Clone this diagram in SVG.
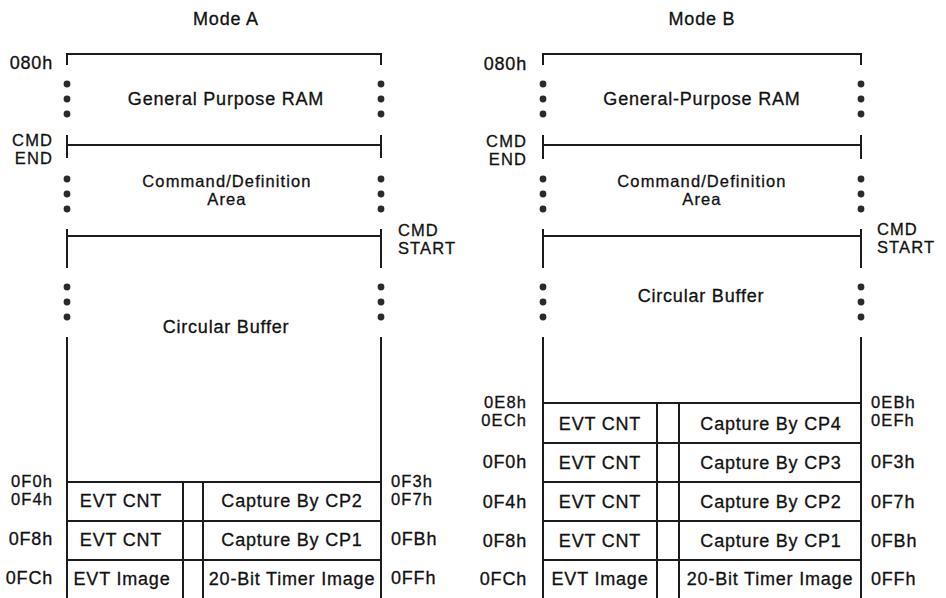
<svg xmlns="http://www.w3.org/2000/svg" width="946" height="598" viewBox="0 0 946 598">
<defs>
<style>
.ln{fill:none;stroke:#1c1c1c;stroke-width:2}
.dot{fill:#2a2a2a}
text{font-family:"Liberation Sans",Arial,sans-serif;font-size:18px;fill:#111;stroke:#111;stroke-width:0.3;letter-spacing:0.8px}
text.s{font-size:16.5px;letter-spacing:1.1px}
.m{text-anchor:middle}
.e{text-anchor:end}
</style>
</defs>
<rect width="946" height="598" fill="#fff"/>

<g id="title-a"><text class="m" x="226" y="25">Mode A</text></g>
<g id="title-b"><text class="m" x="702" y="25">Mode B</text></g>

<g id="connectors">
<path class="ln" d="M67,65 V54 H381 V65"/>
<path class="ln" d="M67,135 V158 M67,145 H381 M381,135 V158"/>
<path class="ln" d="M67,229 V268 M67,236 H381 M381,229 V268"/>
<path class="ln" d="M67,337 V598 M381,337 V598"/>
<path class="ln" d="M67,482 H381 M67,521 H381 M67,560 H381 M183,482 V598 M203,482 V598"/>
<path class="ln" d="M543,65 V54 H861 V65"/>
<path class="ln" d="M543,135 V159 M543,145 H861 M861,135 V159"/>
<path class="ln" d="M543,229 V268 M543,236 H861 M861,229 V268"/>
<path class="ln" d="M543,337 V598 M861,337 V598"/>
<path class="ln" d="M543,403 H861 M543,443 H861 M543,482 H861 M543,521 H861 M543,560 H861 M657,403 V598 M679,403 V598"/>
</g>

<g id="dots-a">
<circle class="dot" cx="67" cy="84" r="3.4"/><circle class="dot" cx="67" cy="99" r="3.4"/><circle class="dot" cx="67" cy="114" r="3.4"/>
<circle class="dot" cx="381" cy="84" r="3.4"/><circle class="dot" cx="381" cy="99" r="3.4"/><circle class="dot" cx="381" cy="114" r="3.4"/>
<circle class="dot" cx="67" cy="179" r="3.4"/><circle class="dot" cx="67" cy="194" r="3.4"/><circle class="dot" cx="67" cy="209" r="3.4"/>
<circle class="dot" cx="381" cy="179" r="3.4"/><circle class="dot" cx="381" cy="194" r="3.4"/><circle class="dot" cx="381" cy="209" r="3.4"/>
<circle class="dot" cx="67" cy="287" r="3.4"/><circle class="dot" cx="67" cy="302" r="3.4"/><circle class="dot" cx="67" cy="317" r="3.4"/>
<circle class="dot" cx="381" cy="287" r="3.4"/><circle class="dot" cx="381" cy="302" r="3.4"/><circle class="dot" cx="381" cy="317" r="3.4"/>
</g>
<g id="dots-b">
<circle class="dot" cx="543" cy="84" r="3.4"/><circle class="dot" cx="543" cy="99" r="3.4"/><circle class="dot" cx="543" cy="114" r="3.4"/>
<circle class="dot" cx="861" cy="84" r="3.4"/><circle class="dot" cx="861" cy="99" r="3.4"/><circle class="dot" cx="861" cy="114" r="3.4"/>
<circle class="dot" cx="543" cy="179" r="3.4"/><circle class="dot" cx="543" cy="194" r="3.4"/><circle class="dot" cx="543" cy="209" r="3.4"/>
<circle class="dot" cx="861" cy="179" r="3.4"/><circle class="dot" cx="861" cy="194" r="3.4"/><circle class="dot" cx="861" cy="209" r="3.4"/>
<circle class="dot" cx="543" cy="287" r="3.4"/><circle class="dot" cx="543" cy="302" r="3.4"/><circle class="dot" cx="543" cy="317" r="3.4"/>
<circle class="dot" cx="861" cy="287" r="3.4"/><circle class="dot" cx="861" cy="302" r="3.4"/><circle class="dot" cx="861" cy="317" r="3.4"/>
</g>

<g id="a-gpram"><text class="m" x="226" y="105">General Purpose RAM</text></g>
<g id="a-cmdarea"><text class="m s" x="227" y="187">Command/Definition</text><text class="m s" x="227" y="205">Area</text></g>
<g id="a-circbuf"><text class="m" x="226" y="333">Circular Buffer</text></g>
<g id="a-row1"><text class="m" x="121" y="507">EVT CNT</text><text class="m" x="292" y="507">Capture By CP2</text></g>
<g id="a-row2"><text class="m" x="121" y="546">EVT CNT</text><text class="m" x="292" y="546">Capture By CP1</text></g>
<g id="a-row3"><text class="m" x="122" y="585">EVT Image</text><text class="m" x="292" y="585">20-Bit Timer Image</text></g>
<g id="a-addr">
<text class="e" x="53" y="69">080h</text>
<text class="e s" x="53" y="146">CMD</text><text class="e s" x="53" y="164">END</text>
<text class="s" x="398" y="236">CMD</text><text class="s" x="398" y="254">START</text>
<text class="e s" x="53" y="487">0F0h</text><text class="e s" x="53" y="505">0F4h</text>
<text class="e" x="53" y="545">0F8h</text><text class="e" x="53" y="584">0FCh</text>
<text class="s" x="391" y="487">0F3h</text><text class="s" x="391" y="505">0F7h</text>
<text x="391" y="545">0FBh</text><text x="391" y="584">0FFh</text>
</g>

<g id="b-gpram"><text class="m" x="702" y="105">General-Purpose RAM</text></g>
<g id="b-cmdarea"><text class="m s" x="702" y="187">Command/Definition</text><text class="m s" x="702" y="205">Area</text></g>
<g id="b-circbuf"><text class="m" x="701" y="302">Circular Buffer</text></g>
<g id="b-row1"><text class="m" x="600" y="430">EVT CNT</text><text class="m" x="771" y="430">Capture By CP4</text></g>
<g id="b-row2"><text class="m" x="600" y="469">EVT CNT</text><text class="m" x="771" y="469">Capture By CP3</text></g>
<g id="b-row3"><text class="m" x="600" y="508">EVT CNT</text><text class="m" x="771" y="508">Capture By CP2</text></g>
<g id="b-row4"><text class="m" x="600" y="547">EVT CNT</text><text class="m" x="771" y="547">Capture By CP1</text></g>
<g id="b-row5"><text class="m" x="600" y="585">EVT Image</text><text class="m" x="770" y="585">20-Bit Timer Image</text></g>
<g id="b-addr">
<text class="e" x="527" y="70">080h</text>
<text class="e s" x="527" y="147">CMD</text><text class="e s" x="527" y="165">END</text>
<text class="s" x="877" y="235">CMD</text><text class="s" x="877" y="253">START</text>
<text class="e s" x="527" y="408">0E8h</text><text class="e s" x="527" y="426">0ECh</text>
<text class="e" x="527" y="468">0F0h</text><text class="e" x="527" y="508">0F4h</text>
<text class="e" x="527" y="547">0F8h</text><text class="e" x="527" y="585">0FCh</text>
<text class="s" x="871" y="408">0EBh</text><text class="s" x="871" y="426">0EFh</text>
<text x="871" y="468">0F3h</text><text x="871" y="508">0F7h</text>
<text x="871" y="547">0FBh</text><text x="871" y="585">0FFh</text>
</g>
</svg>
